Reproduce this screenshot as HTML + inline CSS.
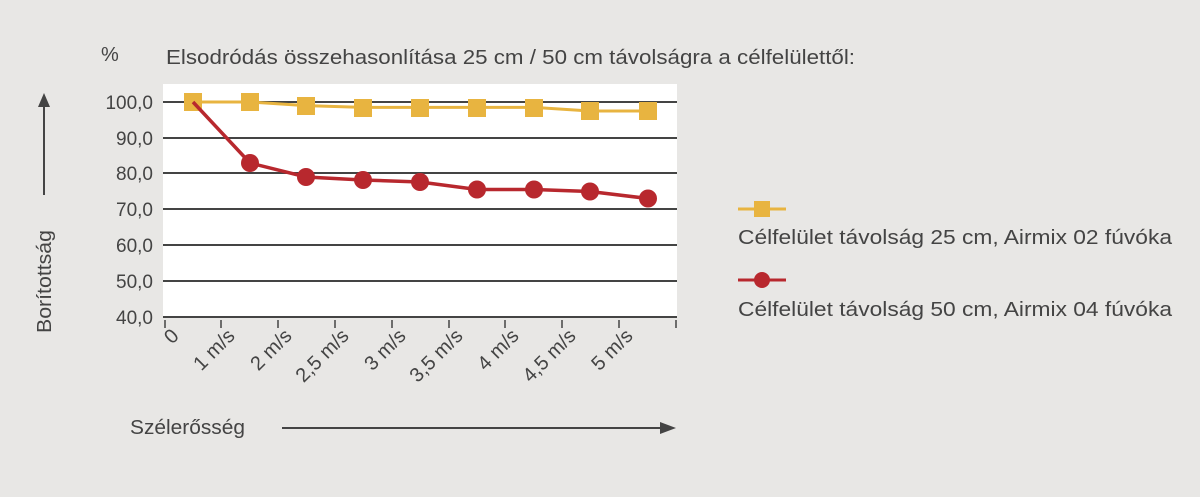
<!DOCTYPE html><html><head><style>body{margin:0;background:#e8e7e5;}svg{display:block}text{font-family:"Liberation Sans",sans-serif;fill:#444}</style></head><body>
<svg width="1200" height="497" xmlns="http://www.w3.org/2000/svg">
<rect width="1200" height="497" fill="#e8e7e5"/>
<rect x="163" y="84" width="514" height="233" fill="#fff"/>
<g stroke="#444" stroke-width="2">
<line x1="163" y1="102" x2="677" y2="102"/><line x1="163" y1="138" x2="677" y2="138"/><line x1="163" y1="173" x2="677" y2="173"/><line x1="163" y1="209" x2="677" y2="209"/><line x1="163" y1="245" x2="677" y2="245"/><line x1="163" y1="281" x2="677" y2="281"/><line x1="163" y1="317" x2="677" y2="317"/>
<g stroke-width="1.5"><line x1="165" y1="320" x2="165" y2="328"/><line x1="221" y1="320" x2="221" y2="328"/><line x1="278" y1="320" x2="278" y2="328"/><line x1="335" y1="320" x2="335" y2="328"/><line x1="392" y1="320" x2="392" y2="328"/><line x1="449" y1="320" x2="449" y2="328"/><line x1="505" y1="320" x2="505" y2="328"/><line x1="562" y1="320" x2="562" y2="328"/><line x1="619" y1="320" x2="619" y2="328"/><line x1="676" y1="320" x2="676" y2="328"/></g>
</g>
<g font-size="19" text-anchor="end"><text x="153" y="109">100,0</text><text x="153" y="145">90,0</text><text x="153" y="180">80,0</text><text x="153" y="216">70,0</text><text x="153" y="252">60,0</text><text x="153" y="288">50,0</text><text x="153" y="324">40,0</text></g>
<g font-size="20" text-anchor="end">
<text transform="translate(180,337) rotate(-45)">0</text>
<text transform="translate(236,337) rotate(-45)">1 m/s</text>
<text transform="translate(293,337) rotate(-45)">2 m/s</text>
<text transform="translate(350,337) rotate(-45)">2,5 m/s</text>
<text transform="translate(407,337) rotate(-45)">3 m/s</text>
<text transform="translate(464,337) rotate(-45)">3,5 m/s</text>
<text transform="translate(520,337) rotate(-45)">4 m/s</text>
<text transform="translate(577,337) rotate(-45)">4,5 m/s</text>
<text transform="translate(634,337) rotate(-45)">5 m/s</text>
</g>
<polyline fill="none" stroke="#e8b440" stroke-width="3" points="193,102 250,102 306,105.6 363,107.4 420,107.4 477,107.4 534,107.4 590,111 648,111"/>
<g fill="#e8b440"><rect x="184" y="93" width="18" height="18"/><rect x="241" y="93" width="18" height="18"/><rect x="297" y="97" width="18" height="18"/><rect x="354" y="99" width="18" height="18"/><rect x="411" y="99" width="18" height="18"/><rect x="468" y="99" width="18" height="18"/><rect x="525" y="99" width="18" height="18"/><rect x="581" y="102" width="18" height="18"/><rect x="639" y="102" width="18" height="18"/></g>
<polyline fill="none" stroke="#b8282e" stroke-width="3.5" points="193,102 250,163 306,177 363,180 420,182 477,189.5 534,189.5 590,191.5 648,198.5"/>
<g fill="#b8282e"><circle cx="250" cy="163" r="9"/><circle cx="306" cy="177" r="9"/><circle cx="363" cy="180" r="9"/><circle cx="420" cy="182" r="9"/><circle cx="477" cy="189.5" r="9"/><circle cx="534" cy="189.5" r="9"/><circle cx="590" cy="191.5" r="9"/><circle cx="648" cy="198.5" r="9"/></g>
<text x="101" y="61" font-size="20">%</text>
<text x="166" y="64" font-size="20" textLength="689" lengthAdjust="spacingAndGlyphs">Elsodródás összehasonlítása 25 cm / 50 cm távolságra a célfelülettől:</text>
<text transform="translate(51,333) rotate(-90)" font-size="20" textLength="103" lengthAdjust="spacingAndGlyphs">Borítottság</text>
<line x1="44" y1="195" x2="44" y2="105" stroke="#444" stroke-width="2"/><polygon points="38,107 50,107 44,93" fill="#444"/>
<text x="130" y="434" font-size="20" textLength="115" lengthAdjust="spacingAndGlyphs">Szélerősség</text>
<line x1="282" y1="428" x2="662" y2="428" stroke="#444" stroke-width="2"/><polygon points="660,422 660,434 676,428" fill="#444"/>
<line x1="738" y1="209" x2="786" y2="209" stroke="#e8b440" stroke-width="3"/><rect x="754" y="201" width="16" height="16" fill="#e8b440"/>
<text x="738" y="244" font-size="20" textLength="434" lengthAdjust="spacingAndGlyphs">Célfelület távolság 25 cm, Airmix 02 fúvóka</text>
<line x1="738" y1="280" x2="786" y2="280" stroke="#b8282e" stroke-width="3"/><circle cx="762" cy="280" r="8" fill="#b8282e"/>
<text x="738" y="316" font-size="20" textLength="434" lengthAdjust="spacingAndGlyphs">Célfelület távolság 50 cm, Airmix 04 fúvóka</text>
</svg></body></html>
